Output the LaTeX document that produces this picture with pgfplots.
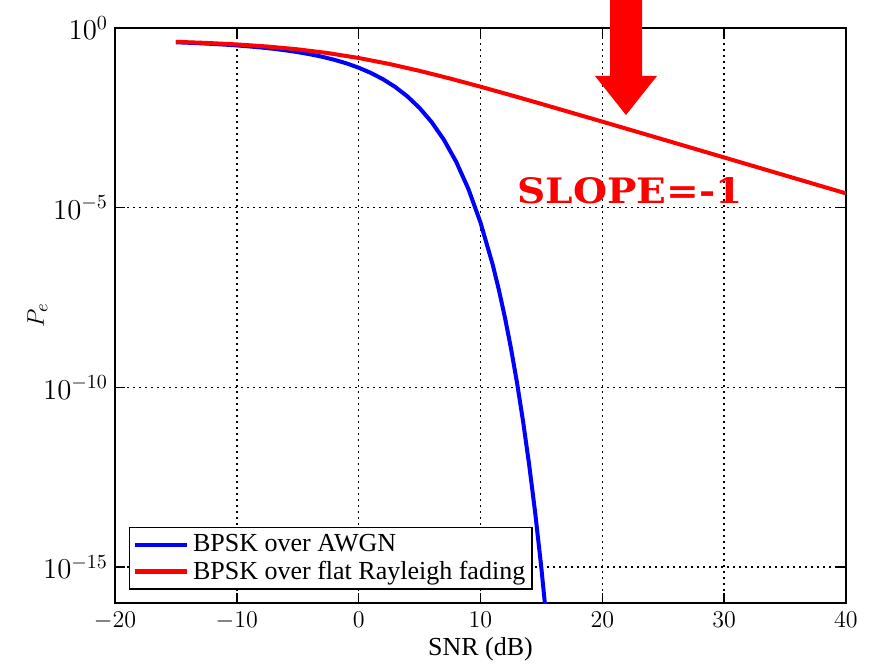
\documentclass[border=0pt]{standalone}
\usepackage{pgfplots}
\pgfplotsset{compat=1.18}
\usepackage{fontspec}
\setmainfont{Liberation Serif}
\newfontfamily\slopefont{DejaVu Serif}
\begin{document}
\begin{tikzpicture}
\useasboundingbox (-57.5pt,-31pt) rectangle (377pt,301.5pt);
\begin{axis}[
  scale only axis,
  width=365.5pt, height=287.5pt,
  at={(0pt,0pt)}, anchor=south west,
  xmin=-20, xmax=40,
  ymode=log, ymin=1e-16, ymax=1,
  xtick={-20,-10,0,10,20,30,40},
  ytick={1,1e-5,1e-10,1e-15},
  minor ytick={},
  tick align=inside,
  major tick length=5pt,
  tick style={black, line width=0.7pt},
  axis line style={black, line width=1pt},
  grid=major,
  major grid style={black, line width=0.8pt, dash pattern=on 1pt off 2pt},
  xticklabel style={font=\fontsize{12.5}{14}\selectfont, yshift=-1pt},
  yticklabel style={font=\fontsize{14}{16}\selectfont},
  label style={font=\fontsize{13}{15}\selectfont},
  xlabel={SNR (dB)},
  ylabel={$P_e$},
  xlabel style={yshift=3pt},
  ylabel style={yshift=-9pt},
  legend style={at={(0.019,0.0226)}, anchor=south west, draw=black,
    line width=0.8pt, font=\fontsize{13}{14}\selectfont, inner sep=1.5pt,
    row sep=-1pt, cells={anchor=west}},
  legend cell align=left,
  legend image code/.code={\draw[#1, line width=2.2pt] (0pt,0pt) -- (26pt,0pt);},
]
\addplot[blue, line width=2pt] coordinates {
(-15,0.4007) (-14,0.3889) (-13,0.3758) (-12,0.3612) (-11,0.3451)
(-10,0.3274) (-9,0.3079) (-8,0.2867) (-7,0.2638) (-6,0.2392)
(-5,0.2132) (-4,0.1861) (-3,0.1584) (-2,0.1306) (-1,0.1038)
(0,0.07865) (1,0.05628) (2,0.03751) (3,0.02288) (4,0.01250)
(5,0.005954) (6,0.002388) (7,7.727e-4) (8,1.909e-4) (9,3.362e-5)
(10,3.872e-6) (11,2.613e-7) (11.5,5.33e-8) (12,9.006e-9) (12.5,1.233e-9)
(13,1.333e-10) (13.5,1.104e-11) (14,6.81e-13) (14.5,3.02e-14)
(15,9.124e-16) (15.5,1.82e-17) (16,2.26e-19)
};
\addlegendentry{BPSK over AWGN}
\addplot[red, line width=2pt] coordinates {
(-15,0.4125) (-12.5,0.3846) (-10,0.3492) (-7.5,0.3057) (-5,0.2549)
(-2.5,0.2000) (0,0.1464) (2.5,0.09998) (5,0.06418) (7.5,0.03929)
(10,0.02327) (12.5,0.01349) (15,0.007722) (20,0.0024814) (25,7.887e-4)
(30,2.498e-4) (35,7.904e-5) (40,2.4998e-5)
};
\addlegendentry{BPSK over flat Rayleigh fading}
\end{axis}
\fill[red] (247.5pt,320pt) -- (247.5pt,263.5pt) -- (240pt,263.5pt) -- (255.5pt,244pt)
  -- (271pt,263.5pt) -- (263.5pt,263.5pt) -- (263.5pt,320pt) -- cycle;
\node[anchor=south west, inner sep=0pt, text=red] at (201pt,199.5pt)
  {\resizebox{112.5pt}{13pt}{\slopefont\bfseries SLOPE=-1}};
\end{tikzpicture}
\end{document}
